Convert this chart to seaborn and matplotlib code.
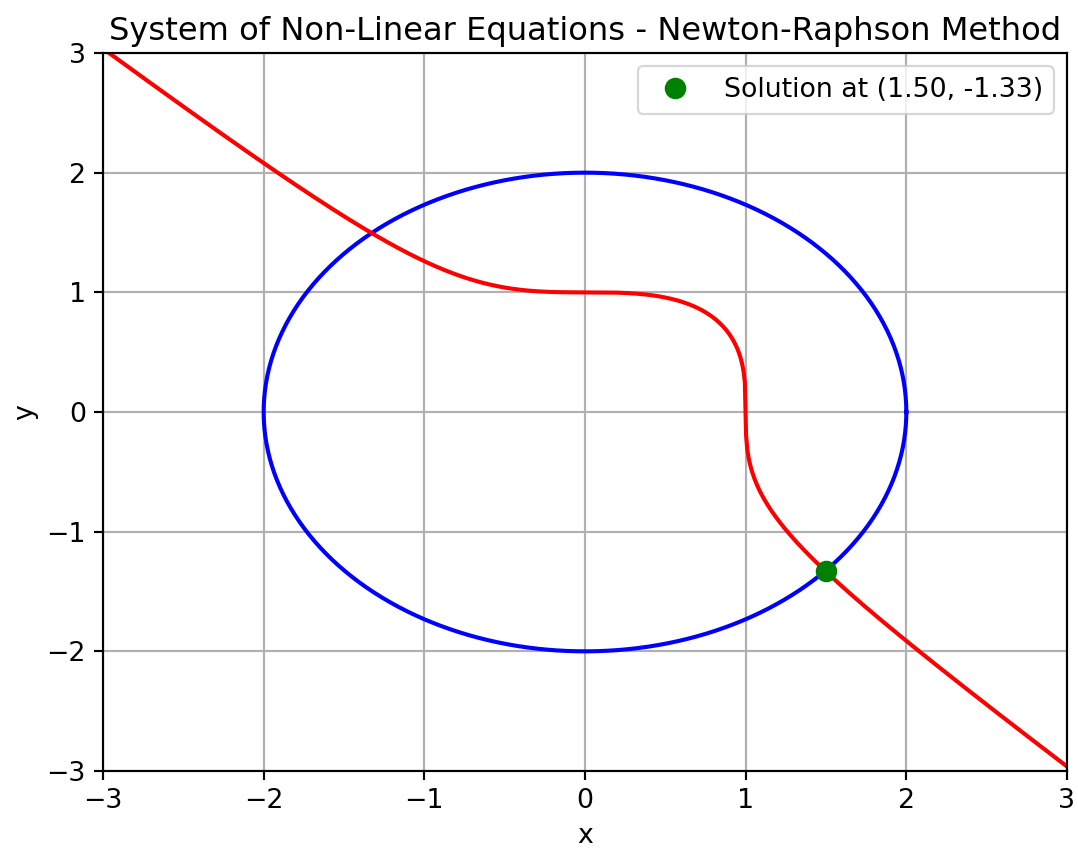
import numpy as np
import pandas as pd
import matplotlib
matplotlib.use("Agg")
import matplotlib.pyplot as plt
import seaborn as sns

# equations: x^2 + y^2 = RADIUS^2  and  x^3 + y^3 = CUBIC_CONST
RADIUS = 2.0
CUBIC_CONST = 1.0
x_range = [-3, 3]
y_range = [-3, 3]
solution_x = [1.50]
solution_y = [-1.33]
ticks = [-3, -2, -1, 0, 1, 2, 3]

# sample the curves
t = np.linspace(0, 2 * np.pi, 600)
circle = pd.DataFrame({"x": RADIUS * np.cos(t), "y": RADIUS * np.sin(t)})
xs = np.linspace(x_range[0], x_range[1], 800)
cubic = pd.DataFrame({"x": xs, "y": np.cbrt(CUBIC_CONST - xs ** 3)})
sol = pd.DataFrame({"x": solution_x, "y": solution_y})

plt.rcParams["font.size"] = 12.45
dpi = 155
fig = plt.figure(figsize=(1078 / dpi, 856 / dpi), dpi=dpi)
ax = fig.add_axes([103 / 1078, 1 - 771 / 856, 964 / 1078, 718 / 856])

sns.lineplot(data=circle, x="x", y="y", sort=False, estimator=None, color="blue", lw=1.9, ax=ax)
sns.lineplot(data=cubic, x="x", y="y", sort=False, estimator=None, color="red", lw=1.9, ax=ax)
ax.plot(sol["x"], sol["y"], "o", color="green", markersize=9,
        label=f"Solution at ({solution_x[0]:.2f}, {solution_y[0]:.2f})", zorder=5)

ax.set_xlim(x_range)
ax.set_ylim(y_range)
ax.set_xticks(ticks)
ax.set_yticks(ticks)
ax.tick_params(length=4.4, width=1.0)
for s in ax.spines.values():
    s.set_linewidth(1.0)
ax.grid(True, lw=1.0)
ax.set_xlabel("x")
ax.set_ylabel("y")
ax.set_title("System of Non-Linear Equations - Newton-Raphson Method")
ax.legend(loc="upper right")

fig.savefig("out.png", dpi=dpi)
